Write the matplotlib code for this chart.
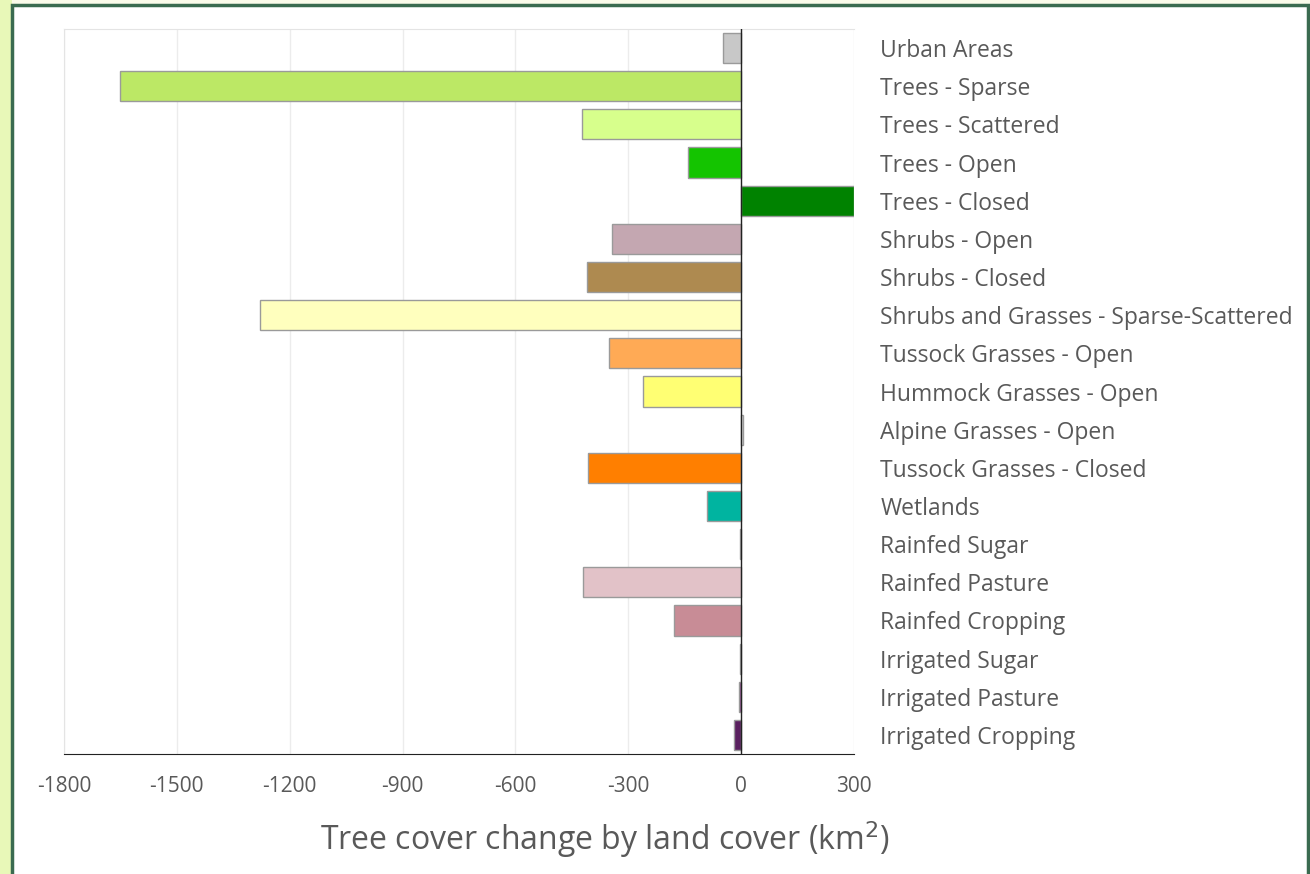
import matplotlib.pyplot as plt
from matplotlib.patches import Rectangle

plt.rcParams['font.family'] = ['Open Sans', 'DejaVu Sans']

# categories top to bottom
categories = ['Urban Areas', 'Trees - Sparse', 'Trees - Scattered', 'Trees - Open',
              'Trees - Closed', 'Shrubs - Open', 'Shrubs - Closed',
              'Shrubs and Grasses - Sparse-Scattered', 'Tussock Grasses - Open',
              'Hummock Grasses - Open', 'Alpine Grasses - Open', 'Tussock Grasses - Closed',
              'Wetlands', 'Rainfed Sugar', 'Rainfed Pasture', 'Rainfed Cropping',
              'Irrigated Sugar', 'Irrigated Pasture', 'Irrigated Cropping']
change_km2 = [-48, -1650, -422, -141, 300, -342, -411, -1280, -350, -260, 4,
              -406, -92, -3, -420, -178, -2, -5, -20]
colours = ['#c8c8c8', '#bce865', '#d7ff8c', '#14c400', '#008200', '#c4a7b1', '#ae8a50',
           '#ffffbe', '#ffaa55', '#ffff73', '#e8e8e8', '#ff7f00', '#00b4a0', '#707070',
           '#e2c2c8', '#c88c96', '#707070', '#8c3c8c', '#5a2060']
xticks = [-1800, -1500, -1200, -900, -600, -300, 0, 300]

fig = plt.figure(figsize=(13.1, 8.74), dpi=100)
fig.patch.set_facecolor('#fafbea')
# light green strip on the left, white panel with green frame
fig.patches.append(Rectangle((0, 0), 12/1310, 1, transform=fig.transFigure,
                             facecolor='#e8f8b8', edgecolor='none', zorder=-10))
fig.patches.append(Rectangle((12/1310, -0.01), 1296/1310, (874-5)/874 + 0.01,
                             transform=fig.transFigure, facecolor='white',
                             edgecolor='#3a6b50', linewidth=2.5, zorder=-10))

ax = fig.add_axes([64/1310, (874-754)/874, 790/1310, (754-29)/874])
ax.set_zorder(5)
ax.set_facecolor('white')
y = list(range(len(categories)))
ax.barh(y, change_km2, height=0.79, color=colours, edgecolor='#9a9a9a', linewidth=1, zorder=3)
ax.set_ylim(len(categories) - 0.5, -0.5)
ax.set_xlim(-1800, 300)
ax.set_xticks(xticks)
ax.set_xticklabels([str(t) for t in xticks], fontsize=15, color='#595959')
ax.grid(axis='x', color='#ececec', linewidth=1, zorder=0)
ax.axvline(0, color='#222222', linewidth=1, zorder=4)

ax.yaxis.tick_right()
ax.set_yticks(y)
ax.set_yticklabels(categories, fontsize=16.5, color='#595959')
ax.tick_params(axis='y', length=0, pad=19)
ax.tick_params(axis='x', length=0, pad=16)

for s in ['top', 'left', 'right']:
    ax.spines[s].set_color('#e4e4e4')
ax.spines['right'].set_visible(False)
ax.spines['bottom'].set_color('#222222')

fig.text(605/1310, 1 - 840/874, 'Tree cover change by land cover (km$^2$)',
         fontsize=23, color='#595959', ha='center', va='center')

fig.savefig('out.png', dpi=100, facecolor=fig.get_facecolor())
